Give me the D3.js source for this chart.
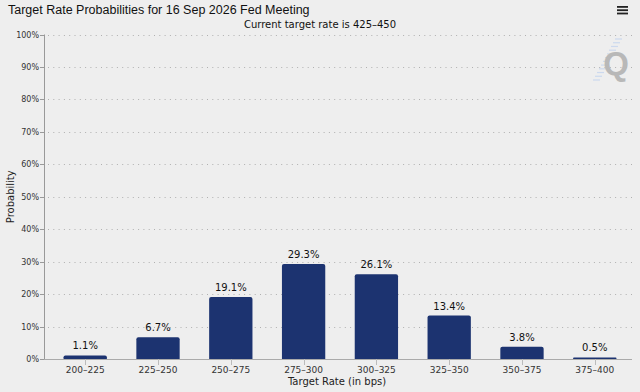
<!DOCTYPE html>
<html>
<head>
<meta charset="utf-8">
<script src="https://cdn.jsdelivr.net/npm/d3@7"></script>
<style>
  body { margin: 0; background: #eeeeee; }
  svg { display: block; }
</style>
</head>
<body>
<svg id="mainsvg" width="640" height="392"></svg>
<script>
// chart data
let categories = ["200-225", "225-250", "250-275", "275-300", "300-325", "325-350", "350-375", "375-400"];
let probabilities = [1.1, 6.7, 19.1, 29.3, 26.1, 13.4, 3.8, 0.5];
let yTicks = [0, 10, 20, 30, 40, 50, 60, 70, 80, 90, 100];

let svg = d3.select("#mainsvg");
let tickFont = "'DejaVu Sans', sans-serif";
let axisLeft = 44, axisRight = 632;

let x = d3.scaleBand().domain(categories).range([49, 631]).paddingInner(0.405).paddingOuter(0.2);
let y = d3.scaleLinear().domain([0, 100]).range([359, 34.5]);

svg.append("rect").attr("width", 640).attr("height", 392).attr("fill", "#eeeeee");

// title + subtitle
svg.append("text")
    .attr("x", 8).attr("y", 14)
    .attr("font-family", "'Liberation Sans', Arial, sans-serif")
    .attr("font-size", 12.5).attr("fill", "#111")
    .text("Target Rate Probabilities for 16 Sep 2026 Fed Meeting");
svg.append("text")
    .attr("x", 320).attr("y", 28).attr("text-anchor", "middle")
    .attr("font-family", tickFont).attr("font-size", 10).attr("fill", "#111")
    .text("Current target rate is 425\u2013450");

// hamburger menu
for (let i = 0; i < 3; i++) {
    svg.append("rect").attr("x", 617).attr("y", 6 + i * 3.3).attr("width", 11).attr("height", 1.8).attr("fill", "#222");
}

// gridlines (dotted)
svg.append("g").selectAll("line").data(yTicks.filter(d => d > 0)).enter()
    .append("line")
    .attr("x1", axisLeft + 4).attr("x2", axisRight)
    .attr("y1", d => Math.round(y(d)) + 0.5).attr("y2", d => Math.round(y(d)) + 0.5)
    .attr("stroke", "#b0b0b0").attr("stroke-width", 1.1).attr("stroke-dasharray", "1,4.3");

// watermark
let wm = svg.append("g");
for (let i = 0; i < 12; i++) {
    let t = i / 11;
    let cx = 597 + t * 22, cy = 80 - t * 41;
    wm.append("line")
        .attr("x1", cx - 4).attr("y1", cy).attr("x2", cx + 3).attr("y2", cy)
        .attr("stroke", "#ccd9ee").attr("stroke-width", 1.2);
}
wm.append("text").attr("x", 616).attr("y", 75).attr("text-anchor", "middle")
    .attr("font-family", "'Liberation Sans', Arial, sans-serif").attr("font-weight", "bold")
    .attr("font-size", 33).attr("fill", "#b8b8b8").text("Q");

// y axis
let yAxis = svg.append("g");
yAxis.append("line").attr("x1", axisLeft + 0.5).attr("x2", axisLeft + 0.5)
    .attr("y1", y(100)).attr("y2", y(0)).attr("stroke", "#999").attr("stroke-width", 1);
yAxis.selectAll(".ytick").data(yTicks).enter().append("line")
    .attr("class", "ytick")
    .attr("x1", axisLeft - 4).attr("x2", axisLeft)
    .attr("y1", d => Math.round(y(d)) + 0.5).attr("y2", d => Math.round(y(d)) + 0.5)
    .attr("stroke", "#999");
yAxis.selectAll(".ylab").data(yTicks).enter().append("text")
    .attr("class", "ylab")
    .attr("x", axisLeft - 5).attr("y", d => y(d) + 3).attr("text-anchor", "end")
    .attr("font-family", tickFont).attr("font-size", 8).attr("fill", "#333")
    .text(d => d + "%");
svg.append("text")
    .attr("transform", "translate(14," + (y(50) + 0) + ") rotate(-90)")
    .attr("text-anchor", "middle")
    .attr("font-family", tickFont).attr("font-size", 10).attr("fill", "#222")
    .text("Probability");

// bars with rounded top corners
let r = 2;
svg.append("g").selectAll("path").data(probabilities).enter()
    .append("path")
    .attr("d", (d, i) => {
        let x0 = x(categories[i]), w = x.bandwidth();
        let y0 = y(d), y1 = y(0);
        let rr = Math.min(r, (y1 - y0) / 2);
        return "M" + x0 + "," + y1 + "V" + (y0 + rr) + "Q" + x0 + "," + y0 + " " + (x0 + rr) + "," + y0 +
            "H" + (x0 + w - rr) + "Q" + (x0 + w) + "," + y0 + " " + (x0 + w) + "," + (y0 + rr) + "V" + y1 + "Z";
    })
    .attr("fill", "#1c3370");

// value labels
svg.append("g").selectAll("text").data(probabilities).enter()
    .append("text")
    .attr("x", (d, i) => x(categories[i]) + x.bandwidth() / 2)
    .attr("y", d => y(d) - 6).attr("text-anchor", "middle")
    .attr("font-family", tickFont).attr("font-size", 10).attr("fill", "#111")
    .text(d => d.toFixed(1) + "%");

// x axis
let xAxis = svg.append("g");
xAxis.append("line").attr("x1", axisLeft).attr("x2", axisRight)
    .attr("y1", y(0) + 0.5).attr("y2", y(0) + 0.5).attr("stroke", "#aaa").attr("stroke-width", 1.2);
xAxis.selectAll(".xtick").data(categories).enter().append("line")
    .attr("class", "xtick")
    .attr("x1", d => Math.round(x(d) + x.bandwidth() / 2) + 0.5)
    .attr("x2", d => Math.round(x(d) + x.bandwidth() / 2) + 0.5)
    .attr("y1", y(0)).attr("y2", y(0) + 6).attr("stroke", "#bbb");
xAxis.selectAll(".xlab").data(categories).enter().append("text")
    .attr("class", "xlab")
    .attr("x", d => x(d) + x.bandwidth() / 2).attr("y", y(0) + 14).attr("text-anchor", "middle")
    .attr("font-family", tickFont).attr("font-size", 9).attr("fill", "#333")
    .text(d => d.replace("-", "\u2013"));
svg.append("text")
    .attr("x", 337).attr("y", 385).attr("text-anchor", "middle")
    .attr("font-family", tickFont).attr("font-size", 10).attr("fill", "#222")
    .text("Target Rate (in bps)");
</script>
</body>
</html>
